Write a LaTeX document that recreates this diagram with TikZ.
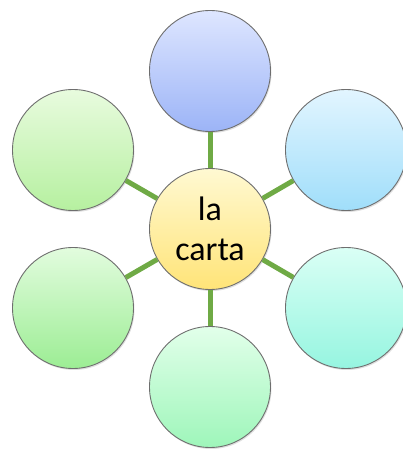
\documentclass[tikz,border=0pt]{standalone}
\usepackage{fontspec}
\setmainfont{Carlito}
\usetikzlibrary{shadows}
\definecolor{spoke}{HTML}{6FAA45}
\definecolor{rim}{HTML}{6E6E6E}
\tikzset{
  bubble/.style={circle, draw=rim, line width=0.9pt, minimum size=121pt, inner sep=0pt,
    drop shadow={shadow xshift=1pt, shadow yshift=-1.5pt, opacity=0.25}},
  link/.style={draw=spoke, line width=5pt}
}
\begin{document}
\begin{tikzpicture}[x=1pt, y=1pt, line join=round]
\useasboundingbox (0,0) rectangle (403,451);
% hub
\node[bubble, top color={rgb,255:red,255;green,249;blue,210}, bottom color={rgb,255:red,255;green,228;blue,120},
  align=center, font=\fontsize{34}{40}\selectfont] (carta) at (210,222) {la\\carta};
% outer bubbles
\node[bubble, top color={rgb,255:red,222;green,230;blue,255}, bottom color={rgb,255:red,156;green,180;blue,247}] (top) at (210,380) {};
\node[bubble, top color={rgb,255:red,226;green,245;blue,255}, bottom color={rgb,255:red,160;green,222;blue,250}] (upright) at (346,301) {};
\node[bubble, top color={rgb,255:red,218;green,255;blue,245}, bottom color={rgb,255:red,150;green,245;blue,224}] (lowright) at (346,143) {};
\node[bubble, top color={rgb,255:red,226;green,255;blue,234}, bottom color={rgb,255:red,158;green,246;blue,186}] (bottom) at (210,64) {};
\node[bubble, top color={rgb,255:red,226;green,252;blue,222}, bottom color={rgb,255:red,156;green,237;blue,148}] (lowleft) at (73,143) {};
\node[bubble, top color={rgb,255:red,232;green,251;blue,222}, bottom color={rgb,255:red,182;green,240;blue,160}] (upleft) at (73,301) {};
% spokes
\draw[link] (carta) -- (top);
\draw[link] (carta) -- (upright);
\draw[link] (carta) -- (lowright);
\draw[link] (carta) -- (bottom);
\draw[link] (carta) -- (lowleft);
\draw[link] (carta) -- (upleft);
\end{tikzpicture}
\end{document}
